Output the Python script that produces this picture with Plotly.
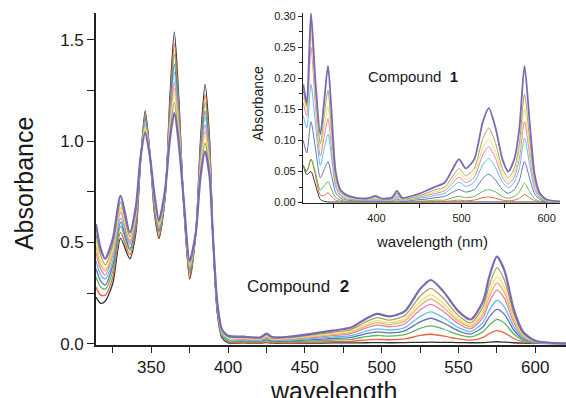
import plotly.graph_objects as go

# ---------------- Compound 2 (main panel) ----------------
wl2 = [314, 317, 320, 325, 330, 336, 340, 343, 346, 349, 352, 355, 359, 362, 365, 368, 371, 375,
       379, 382, 385, 388, 390, 393, 396, 400,
       410, 421, 425, 429, 440, 455, 468, 480, 490, 497, 505, 515, 525, 532, 540, 550, 558, 566,
       570, 575, 580, 586, 592, 600, 620]

c2_black = [0.23, 0.20, 0.21, 0.30, 0.52, 0.42, 0.55, 0.90, 1.15, 0.95, 0.65, 0.52, 0.72, 1.20, 1.54, 1.20, 0.70, 0.32,
            0.55, 1.00, 1.28, 1.00, 0.55, 0.15, 0.03, 0.005,
            0.004, 0.003, 0.006, 0.003, 0.003, 0.003, 0.004, 0.004, 0.005, 0.006, 0.005, 0.006, 0.007, 0.008, 0.007,
            0.006, 0.005, 0.006, 0.008, 0.01, 0.008, 0.005, 0.003, 0.002, 0.001]
c2_orange = [0.28, 0.24, 0.24, 0.33, 0.55, 0.44, 0.57, 0.90, 1.13, 0.95, 0.66, 0.53, 0.73, 1.17, 1.48, 1.17, 0.70, 0.33,
             0.55, 0.97, 1.23, 0.97, 0.55, 0.16, 0.04, 0.01,
             0.005, 0.005, 0.008, 0.005, 0.005, 0.008, 0.010, 0.012, 0.019, 0.022, 0.020, 0.024, 0.041, 0.047, 0.039,
             0.024, 0.018, 0.032, 0.050, 0.065, 0.054, 0.026, 0.009, 0.003, 0.001]
c2_green = [0.33, 0.28, 0.27, 0.36, 0.58, 0.46, 0.59, 0.91, 1.12, 0.94, 0.68, 0.55, 0.73, 1.14, 1.43, 1.14, 0.71, 0.35,
            0.55, 0.95, 1.19, 0.95, 0.55, 0.16, 0.04, 0.015,
            0.010, 0.009, 0.014, 0.009, 0.010, 0.014, 0.018, 0.022, 0.035, 0.041, 0.038, 0.045, 0.076, 0.088, 0.073,
            0.045, 0.034, 0.059, 0.092, 0.12, 0.101, 0.048, 0.017, 0.004, 0.001]
c2_blue = [0.37, 0.31, 0.29, 0.39, 0.60, 0.47, 0.60, 0.91, 1.11, 0.94, 0.69, 0.56, 0.74, 1.12, 1.38, 1.11, 0.71, 0.36,
           0.55, 0.93, 1.15, 0.93, 0.55, 0.17, 0.05, 0.02,
           0.014, 0.013, 0.020, 0.013, 0.014, 0.020, 0.026, 0.032, 0.050, 0.059, 0.054, 0.064, 0.108, 0.126, 0.104,
           0.064, 0.048, 0.084, 0.132, 0.17, 0.144, 0.068, 0.024, 0.006, 0.001]
c2_cyan = [0.41, 0.34, 0.32, 0.41, 0.62, 0.49, 0.62, 0.91, 1.10, 0.94, 0.70, 0.57, 0.74, 1.10, 1.34, 1.09, 0.71, 0.37,
           0.55, 0.91, 1.12, 0.91, 0.55, 0.18, 0.05, 0.02,
           0.018, 0.016, 0.025, 0.017, 0.018, 0.025, 0.033, 0.040, 0.063, 0.074, 0.068, 0.080, 0.135, 0.158, 0.130,
           0.080, 0.060, 0.105, 0.165, 0.215, 0.180, 0.085, 0.030, 0.008, 0.001]
c2_pink = [0.45, 0.37, 0.34, 0.44, 0.65, 0.50, 0.63, 0.91, 1.08, 0.94, 0.71, 0.58, 0.75, 1.08, 1.29, 1.06, 0.71, 0.38,
           0.55, 0.89, 1.08, 0.89, 0.55, 0.18, 0.06, 0.03,
           0.022, 0.020, 0.031, 0.020, 0.022, 0.031, 0.040, 0.050, 0.078, 0.092, 0.084, 0.099, 0.167, 0.195, 0.161,
           0.099, 0.074, 0.130, 0.205, 0.265, 0.223, 0.105, 0.037, 0.009, 0.001]
c2_lorange = [0.48, 0.39, 0.36, 0.45, 0.67, 0.51, 0.64, 0.91, 1.07, 0.94, 0.71, 0.58, 0.75, 1.06, 1.26, 1.05, 0.71, 0.38,
              0.55, 0.87, 1.05, 0.87, 0.55, 0.19, 0.06, 0.03,
              0.025, 0.022, 0.035, 0.023, 0.025, 0.035, 0.046, 0.056, 0.088, 0.104, 0.095, 0.112, 0.189, 0.221, 0.182,
              0.112, 0.084, 0.147, 0.231, 0.30, 0.252, 0.119, 0.042, 0.011, 0.001]
c2_yellow = [0.51, 0.41, 0.37, 0.47, 0.68, 0.52, 0.65, 0.92, 1.07, 0.93, 0.72, 0.59, 0.75, 1.05, 1.23, 1.03, 0.72, 0.39,
             0.55, 0.86, 1.03, 0.86, 0.55, 0.19, 0.06, 0.03,
             0.027, 0.025, 0.039, 0.025, 0.027, 0.039, 0.050, 0.062, 0.096, 0.114, 0.104, 0.123, 0.208, 0.243, 0.200,
             0.123, 0.092, 0.162, 0.254, 0.33, 0.277, 0.131, 0.046, 0.012, 0.002]
c2_olive = [0.54, 0.44, 0.39, 0.49, 0.70, 0.53, 0.66, 0.92, 1.05, 0.93, 0.73, 0.60, 0.76, 1.03, 1.19, 1.01, 0.72, 0.40,
            0.55, 0.84, 0.99, 0.84, 0.55, 0.20, 0.07, 0.035,
            0.030, 0.028, 0.044, 0.029, 0.030, 0.044, 0.057, 0.070, 0.109, 0.129, 0.117, 0.139, 0.235, 0.274, 0.226,
            0.139, 0.104, 0.183, 0.287, 0.375, 0.313, 0.148, 0.052, 0.013, 0.002]
c2_purple = [0.59, 0.47, 0.42, 0.52, 0.73, 0.55, 0.68, 0.92, 1.04, 0.93, 0.74, 0.61, 0.76, 1.00, 1.14, 0.98, 0.72, 0.41,
             0.55, 0.82, 0.95, 0.82, 0.55, 0.20, 0.07, 0.04,
             0.035, 0.032, 0.05, 0.033, 0.035, 0.05, 0.065, 0.08, 0.125, 0.148, 0.135, 0.16, 0.27, 0.315, 0.26,
             0.16, 0.12, 0.21, 0.33, 0.43, 0.36, 0.17, 0.06, 0.015, 0.002]

# ---------------- Compound 1 (inset) ----------------
wl1 = [314, 318, 323, 328, 334, 339, 343, 347, 352, 358, 365, 375,
       390, 399, 405, 418, 424, 430, 445, 460, 470, 480, 490, 497, 505, 515, 525, 532, 540, 548, 555, 562,
       568, 574, 580, 586, 592, 600, 616]

c1_black = [0.06, 0.045, 0.05, 0.03, 0.005, 0.002, 0.001, 0.001, 0.001, 0.001, 0.001, 0.001,
            0.001, 0.001, 0.001, 0.001, 0.001, 0.001, 0.001, 0.001, 0.001, 0.001, 0.001, 0.001, 0.001, 0.001,
            0.001, 0.001, 0.001, 0.001, 0.001, 0.001, 0.001, 0.001, 0.001, 0.001, 0.001, 0.001, 0.001]
c1_orange = [0.06, 0.05, 0.07, 0.045, 0.012, 0.012, 0.016, 0.01, 0.004, 0.002, 0.001, 0.001,
             0.001, 0.001, 0.0, 0.0, 0.001, 0.0, 0.001, 0.001, 0.002, 0.002, 0.003, 0.004, 0.003, 0.004,
             0.008, 0.009, 0.007, 0.004, 0.003, 0.004, 0.007, 0.013, 0.008, 0.003, 0.001, 0.0, 0.0]
c1_green = [0.06, 0.05, 0.07, 0.05, 0.02, 0.028, 0.034, 0.022, 0.008, 0.004, 0.002, 0.001,
            0.001, 0.002, 0.001, 0.001, 0.003, 0.001, 0.002, 0.003, 0.004, 0.004, 0.008, 0.01, 0.008, 0.01,
            0.018, 0.021, 0.017, 0.01, 0.007, 0.01, 0.017, 0.031, 0.018, 0.006, 0.002, 0.001, 0.0]
c1_blue = [0.10, 0.08, 0.13, 0.09, 0.04, 0.055, 0.066, 0.045, 0.016, 0.007, 0.004, 0.003,
           0.002, 0.003, 0.002, 0.002, 0.006, 0.002, 0.004, 0.006, 0.008, 0.01, 0.017, 0.021, 0.017, 0.021,
           0.039, 0.046, 0.036, 0.021, 0.015, 0.021, 0.036, 0.066, 0.039, 0.014, 0.005, 0.002, 0.001]
c1_cyan = [0.14, 0.12, 0.19, 0.13, 0.06, 0.09, 0.11, 0.075, 0.025, 0.01, 0.006, 0.004,
           0.003, 0.005, 0.003, 0.004, 0.009, 0.004, 0.006, 0.009, 0.012, 0.015, 0.026, 0.033, 0.026, 0.033,
           0.061, 0.071, 0.056, 0.033, 0.024, 0.033, 0.056, 0.104, 0.061, 0.021, 0.007, 0.002, 0.001]
c1_pink = [0.16, 0.14, 0.25, 0.16, 0.075, 0.11, 0.135, 0.09, 0.03, 0.012, 0.007, 0.005,
           0.004, 0.006, 0.004, 0.005, 0.011, 0.005, 0.007, 0.012, 0.015, 0.019, 0.032, 0.041, 0.032, 0.041,
           0.077, 0.09, 0.071, 0.041, 0.03, 0.041, 0.071, 0.13, 0.077, 0.027, 0.009, 0.003, 0.001]
c1_yellow = [0.17, 0.15, 0.27, 0.175, 0.085, 0.125, 0.155, 0.105, 0.035, 0.014, 0.008, 0.006,
             0.005, 0.007, 0.005, 0.005, 0.013, 0.005, 0.008, 0.014, 0.018, 0.022, 0.037, 0.048, 0.037, 0.048,
             0.088, 0.103, 0.082, 0.048, 0.034, 0.048, 0.082, 0.15, 0.088, 0.031, 0.01, 0.003, 0.001]
c1_olive = [0.18, 0.155, 0.29, 0.19, 0.095, 0.145, 0.18, 0.12, 0.04, 0.016, 0.01, 0.007,
            0.006, 0.009, 0.006, 0.006, 0.015, 0.006, 0.009, 0.016, 0.021, 0.025, 0.043, 0.055, 0.043, 0.055,
            0.103, 0.12, 0.095, 0.055, 0.04, 0.055, 0.095, 0.174, 0.103, 0.036, 0.012, 0.004, 0.002]
c1_purple = [0.19, 0.16, 0.305, 0.20, 0.11, 0.17, 0.22, 0.15, 0.05, 0.02, 0.012, 0.008,
             0.007, 0.011, 0.007, 0.008, 0.019, 0.008, 0.012, 0.02, 0.026, 0.032, 0.055, 0.07, 0.055, 0.07,
             0.13, 0.152, 0.12, 0.07, 0.05, 0.07, 0.12, 0.22, 0.13, 0.045, 0.015, 0.005, 0.002]

main_ticks = [350, 400, 450, 500, 550, 600]
inset_xticks = [400, 500, 600]

colors = {
    "black": "#333333", "orange": "#e8643a", "green": "#5cb85c", "blue": "#6a6fb8",
    "cyan": "#5bc0e8", "pink": "#e57fb0", "lorange": "#f0b070", "yellow": "#e8e070",
    "olive": "#a8a45a", "purple": "#7a68b8",
}

main_series = [("black", c2_black), ("orange", c2_orange), ("green", c2_green), ("blue", c2_blue),
               ("cyan", c2_cyan), ("pink", c2_pink), ("lorange", c2_lorange), ("yellow", c2_yellow),
               ("olive", c2_olive), ("purple", c2_purple)]
inset_series = [("black", c1_black), ("orange", c1_orange), ("green", c1_green), ("blue", c1_blue),
                ("cyan", c1_cyan), ("pink", c1_pink), ("yellow", c1_yellow), ("olive", c1_olive),
                ("purple", c1_purple)]

FONT = "Liberation Sans, Arial, sans-serif"
TXT = "#1a1a1a"

fig = go.Figure()
for name, vals in main_series:
    fig.add_trace(go.Scatter(x=wl2, y=vals, mode="lines", name=name, showlegend=False,
                             line=dict(color=colors[name], width=2.2 if name == "purple" else 1.3,
                                       shape="spline", smoothing=0.7),
                             xaxis="x", yaxis="y"))
for name, vals in inset_series:
    fig.add_trace(go.Scatter(x=wl1, y=vals, mode="lines", name=name, showlegend=False,
                             line=dict(color=colors[name], width=1.8 if name == "purple" else 1.0,
                                       shape="spline", smoothing=0.7),
                             xaxis="x2", yaxis="y2"))

axis_common = dict(showline=True, linecolor="#222222", showgrid=False, zeroline=False,
                   ticks="outside", tickcolor="#222222", mirror=False)

fig.update_layout(
    width=566, height=398,
    margin=dict(l=96, r=0, t=13, b=53),
    paper_bgcolor="white", plot_bgcolor="white",
    font=dict(family=FONT, color=TXT),
    xaxis=dict(**axis_common, range=[314, 620], domain=[0, 1], linewidth=1.6,
               tickvals=main_ticks, ticklen=6, tickwidth=1.2,
               tickfont=dict(size=17, color=TXT),
               minor=dict(dtick=25, tick0=325, ticks="outside", ticklen=6, tickcolor="#222222")),
    yaxis=dict(**axis_common, range=[-0.006, 1.633], domain=[0, 1], linewidth=1.6,
               tickvals=[0.0, 0.5, 1.0, 1.5], ticktext=["0.0", "0.5", "1.0", "1.5"],
               ticklen=7, tickwidth=1.2, tickfont=dict(size=17, color=TXT),
               minor=dict(dtick=0.25, tick0=0, ticks="outside", ticklen=7, tickcolor="#222222")),
    xaxis2=dict(**axis_common, range=[313.6, 615.6], domain=[0.4404, 0.987], anchor="y2", linewidth=1.2,
                tickvals=inset_xticks, ticklen=4, tickwidth=1,
                tickfont=dict(size=11, color=TXT),
                minor=dict(dtick=50, tick0=350, ticks="outside", ticklen=4, tickcolor="#222222")),
    yaxis2=dict(**axis_common, range=[-0.001, 0.305], domain=[0.427, 1.0], anchor="x2", linewidth=1.2,
                tickvals=[0, 0.05, 0.10, 0.15, 0.20, 0.25, 0.30],
                ticktext=["0.00", "0.05", "0.10", "0.15", "0.20", "0.25", "0.30"],
                ticklen=4, tickwidth=1, tickfont=dict(size=11, color=TXT),
                minor=dict(dtick=0.025, tick0=0, ticks="outside", ticklen=3, tickcolor="#222222")),
    annotations=[
        dict(text="Absorbance", xref="paper", yref="paper", x=-0.153, y=0.485, textangle=-90,
             showarrow=False, font=dict(size=25, color=TXT), xanchor="center", yanchor="middle"),
        dict(text="wavelength", xref="paper", yref="paper", x=0.506, y=-0.091,
             showarrow=False, font=dict(size=25, color=TXT), xanchor="center", yanchor="top"),
        dict(text="Absorbance", xref="paper", yref="paper", x=0.3447, y=0.726, textangle=-90,
             showarrow=False, font=dict(size=14, color=TXT), xanchor="center", yanchor="middle"),
        dict(text="wavelength (nm)", xref="paper", yref="paper", x=0.714, y=0.311,
             showarrow=False, font=dict(size=15, color=TXT), xanchor="center", yanchor="middle"),
        dict(text="Compound  <b>1</b>", xref="paper", yref="paper", x=0.674, y=0.808,
             showarrow=False, font=dict(size=15, color=TXT), xanchor="center", yanchor="middle"),
        dict(text="Compound  <b>2</b>", xref="paper", yref="paper", x=0.43, y=0.1747,
             showarrow=False, font=dict(size=17, color=TXT), xanchor="center", yanchor="middle"),
    ],
)

fig.write_html("out.html", config={"displayModeBar": False},
               post_script="document.body.style.margin='0px';document.body.style.overflow='hidden';")
